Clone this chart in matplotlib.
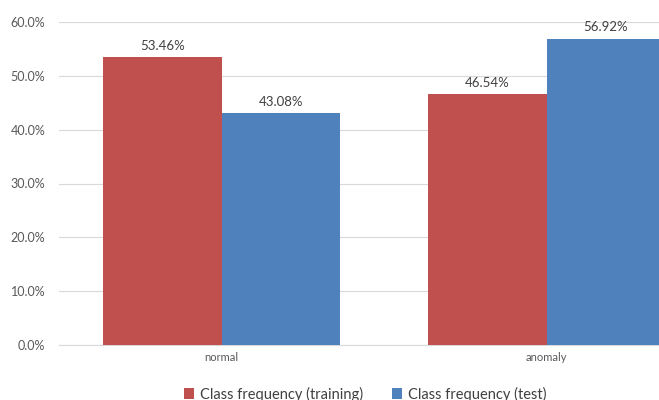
import matplotlib
matplotlib.use("Agg")
import matplotlib.pyplot as plt
import numpy as np

categories = ["normal", "anomaly"]
series_names = ["Class frequency (training)", "Class frequency (test)"]
training = [53.46, 46.54]
test = [43.08, 56.92]
y_ticks = [0, 10, 20, 30, 40, 50, 60]

colors = ["#C0504D", "#4F81BD"]

plt.rcParams["font.family"] = ["Lato", "DejaVu Sans"]

fig = plt.figure(figsize=(6.59, 4.0), dpi=100)
# plot area runs past the right edge of the canvas
ax = fig.add_axes([59 / 659, 55 / 400, 650 / 659, 323 / 400])

x = np.arange(len(categories))
w = 0.365
bars_tr = ax.bar(x - w / 2, training, width=w, color=colors[0], label=series_names[0], zorder=3)
bars_te = ax.bar(x + w / 2, test, width=w, color=colors[1], label=series_names[1], zorder=3)

for bars, vals in ((bars_tr, training), (bars_te, test)):
    for b, v in zip(bars, vals):
        ax.annotate(f"{v:.2f}%", (b.get_x() + b.get_width() / 2, v),
                    xytext=(0, 4), textcoords="offset points",
                    ha="center", va="bottom", fontsize=9.5, color="#404040")

ax.set_xlim(-0.5, 1.5)
ax.set_ylim(0, 60)
ax.set_yticks(y_ticks)
ax.set_yticklabels([f"{t:.1f}%" for t in y_ticks], fontsize=9, color="#595959")
ax.set_xticks(x)
ax.set_xticklabels(categories, fontsize=8, color="#595959")
ax.tick_params(axis="both", length=0)
ax.tick_params(axis="y", pad=10)
ax.tick_params(axis="x", pad=5)
ax.yaxis.grid(True, color="#D9D9D9", linewidth=0.8, zorder=0)
for s in ["top", "right", "left"]:
    ax.spines[s].set_visible(False)
ax.spines["bottom"].set_color("#D9D9D9")

fig.legend(loc="center", bbox_to_anchor=(365 / 659, 6 / 400), ncol=2, frameon=False,
           fontsize=10.5, handlelength=0.7, handleheight=0.7, handletextpad=0.4,
           columnspacing=2.0, labelcolor="#404040")

fig.savefig("out.png", dpi=100)
